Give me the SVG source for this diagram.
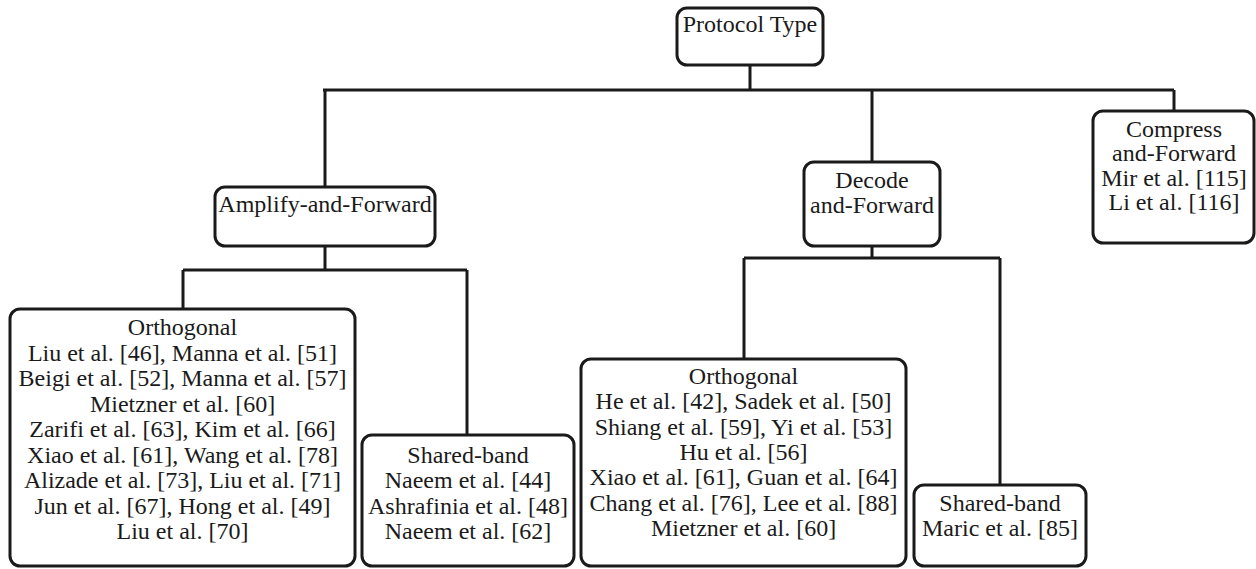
<svg xmlns="http://www.w3.org/2000/svg" width="1256" height="569" viewBox="0 0 1256 569">
<style>
.box{fill:#fff;stroke:#1a1a1a;stroke-width:3}
.ln{fill:none;stroke:#1a1a1a;stroke-width:3}
text{font-family:"Liberation Serif","Times New Roman",serif;font-size:24px;fill:#1a1a1a;text-anchor:middle}
</style>
<rect width="1256" height="569" fill="#fff"/>
<g id="connectors">
<path class="ln" d="M750,65 V90 M323,90 H1174 M325,90 V187 M872,90 V162 M1174,90 V111"/>
<path class="ln" d="M325,246 V270 M183,270 H467 M183,270 V309 M467,270 V435"/>
<path class="ln" d="M872,246 V258 M744,258 H1000 M744,258 V359 M1000,258 V485"/>
</g>
<g id="protocol-type">
<rect class="box" x="677" y="8" width="146" height="57" rx="10"/>
<text x="750" y="32">Protocol Type</text>
</g>
<g id="amplify-and-forward">
<rect class="box" x="215" y="187" width="220" height="59" rx="10"/>
<text x="325" y="212">Amplify-and-Forward</text>
</g>
<g id="decode-and-forward">
<rect class="box" x="804" y="162" width="136" height="84" rx="10"/>
<text x="872" y="188">Decode</text>
<text x="872" y="213">and-Forward</text>
</g>
<g id="compress-and-forward">
<rect class="box" x="1093" y="111" width="161" height="132" rx="10"/>
<text x="1174" y="137">Compress</text>
<text x="1174" y="161">and-Forward</text>
<text x="1174" y="186">Mir et al. [115]</text>
<text x="1174" y="210">Li et al. [116]</text>
</g>
<g id="af-orthogonal">
<rect class="box" x="10" y="309" width="345" height="257" rx="10"/>
<text x="182.5" y="335">Orthogonal</text>
<text x="182.5" y="360.5">Liu et al. [46], Manna et al. [51]</text>
<text x="182.5" y="386">Beigi et al. [52], Manna et al. [57]</text>
<text x="182.5" y="411.5">Mietzner et al. [60]</text>
<text x="182.5" y="437">Zarifi et al. [63], Kim et al. [66]</text>
<text x="182.5" y="462.5">Xiao et al. [61], Wang et al. [78]</text>
<text x="182.5" y="488">Alizade et al. [73], Liu et al. [71]</text>
<text x="182.5" y="513.5">Jun et al. [67], Hong et al. [49]</text>
<text x="182.5" y="539">Liu et al. [70]</text>
</g>
<g id="af-shared-band">
<rect class="box" x="362" y="435" width="212" height="131" rx="10"/>
<text x="468" y="462.5">Shared-band</text>
<text x="468" y="488">Naeem et al. [44]</text>
<text x="468" y="513.5">Ashrafinia et al. [48]</text>
<text x="468" y="539">Naeem et al. [62]</text>
</g>
<g id="df-orthogonal">
<rect class="box" x="581" y="359" width="325" height="207" rx="10"/>
<text x="743.5" y="384">Orthogonal</text>
<text x="743.5" y="409.3">He et al. [42], Sadek et al. [50]</text>
<text x="743.5" y="434.6">Shiang et al. [59], Yi et al. [53]</text>
<text x="743.5" y="460">Hu et al. [56]</text>
<text x="743.5" y="485.3">Xiao et al. [61], Guan et al. [64]</text>
<text x="743.5" y="510.6">Chang et al. [76], Lee et al. [88]</text>
<text x="743.5" y="536">Mietzner et al. [60]</text>
</g>
<g id="df-shared-band">
<rect class="box" x="914" y="485" width="172" height="81" rx="10"/>
<text x="1000" y="510.6">Shared-band</text>
<text x="1000" y="536">Maric et al. [85]</text>
</g>
</svg>
